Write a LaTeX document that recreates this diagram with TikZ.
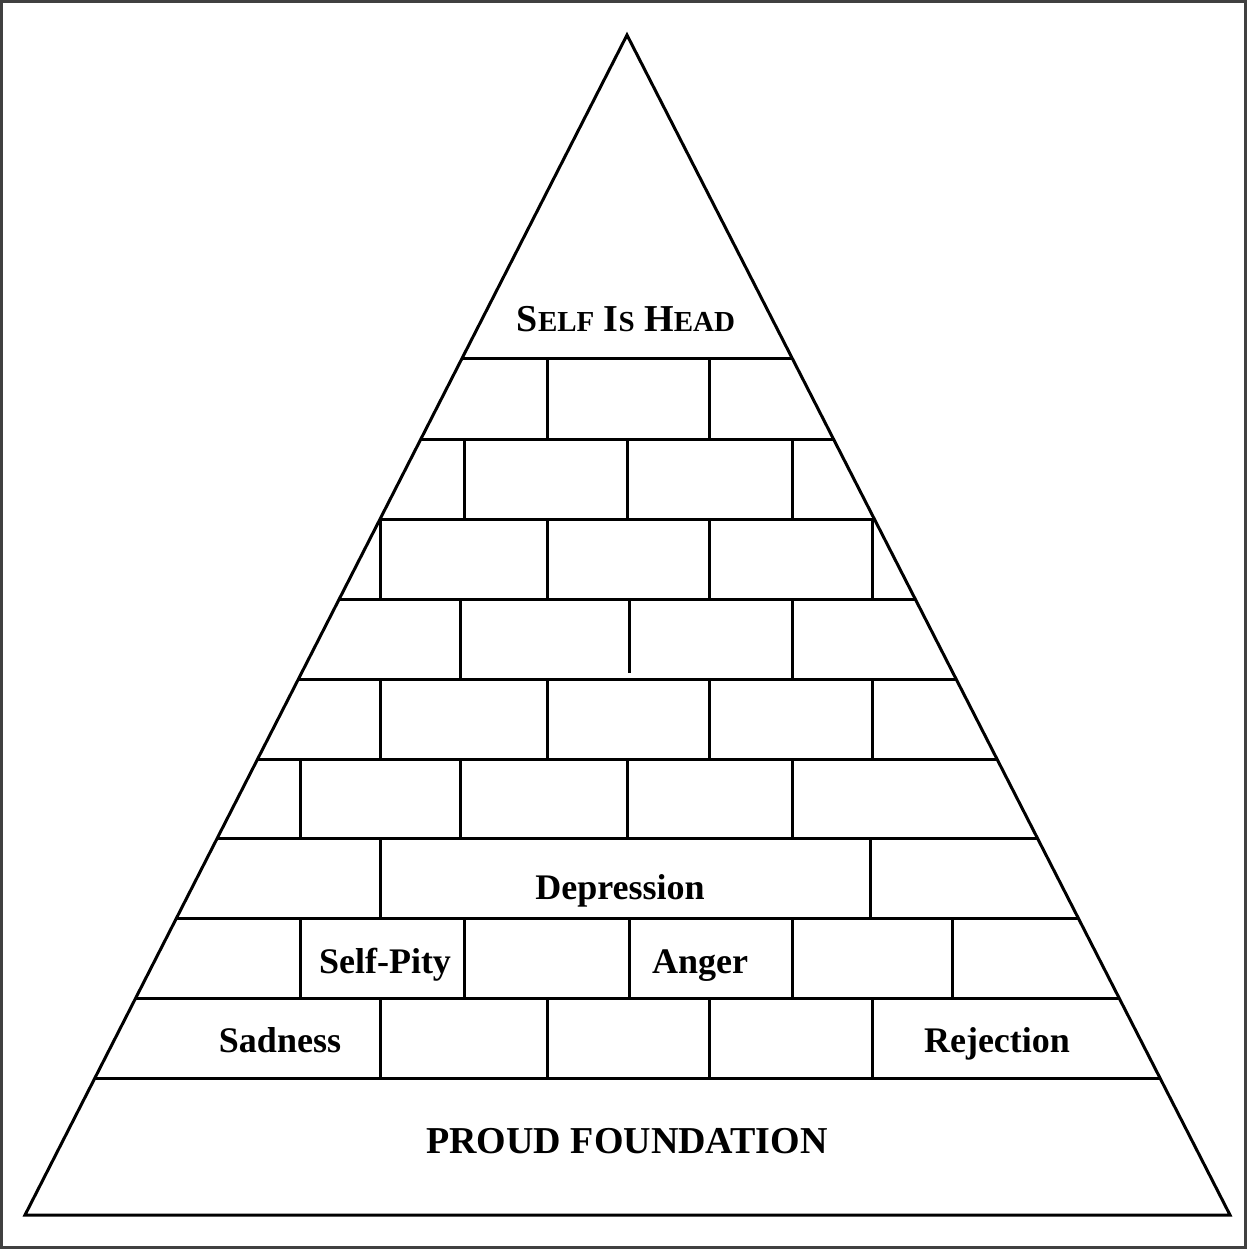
\documentclass[tikz,border=0pt]{standalone}
\usepackage{fontspec}
\setmainfont{Liberation Serif}
\begin{document}
\begin{tikzpicture}[x=0.5pt,y=-0.5pt,line width=1.5pt,
  lbl/.style={anchor=base,inner sep=0pt,font=\bfseries\fontsize{18}{20}\selectfont},
  big/.style={anchor=base,inner sep=0pt,font=\bfseries\fontsize{19}{21}\selectfont}]
\useasboundingbox (0,0) rectangle (1247,1249);
\draw[black!75] (1.5,1.5) rectangle (1245.5,1247.5);
\coordinate (top) at (627,35);
\coordinate (bl) at (25,1215);
\coordinate (br) at (1230,1215);
\begin{scope}
  \clip (top)--(bl)--(br)--cycle;
  \foreach \y in {358,439,519,599,679,759,838,918,998,1078}
    \draw (0,\y)--(1247,\y);
  \draw (547,358)--(547,439) (709,358)--(709,439);
  \draw (464,439)--(464,519) (627,439)--(627,519) (792,439)--(792,519);
  \draw (380,519)--(380,599) (547,519)--(547,599) (709,519)--(709,599) (872,519)--(872,599);
  \draw (460,599)--(460,679) (629,599)--(629,673) (792,599)--(792,679);
  \draw (380,679)--(380,759) (547,679)--(547,759) (709,679)--(709,759) (872,679)--(872,759);
  \draw (300,759)--(300,838) (460,759)--(460,838) (627,759)--(627,838) (792,759)--(792,838);
  \draw (380,838)--(380,918) (870,838)--(870,918);
  \draw (300,918)--(300,998) (464,918)--(464,998) (629,918)--(629,998) (792,918)--(792,998) (952,918)--(952,998);
  \draw (380,998)--(380,1078) (547,998)--(547,1078) (709,998)--(709,1078) (872,998)--(872,1078);
\end{scope}
\draw[line join=miter] (top)--(bl)--(br)--cycle;
\node[big] (head) at (626,331) {S{\fontsize{14.5}{16}\selectfont ELF} I{\fontsize{14.5}{16}\selectfont S} H{\fontsize{14.5}{16}\selectfont EAD}};
\node[lbl] (depression) at (620,899) {Depression};
\node[lbl] (selfpity) at (385,973) {Self-Pity};
\node[lbl] (anger) at (700,973) {Anger};
\node[lbl] (sadness) at (280,1052) {Sadness};
\node[lbl] (rejection) at (997,1052) {Rejection};
\node[big] (proud) at (627,1153) {PROUD FOUNDATION};
\end{tikzpicture}
\end{document}
